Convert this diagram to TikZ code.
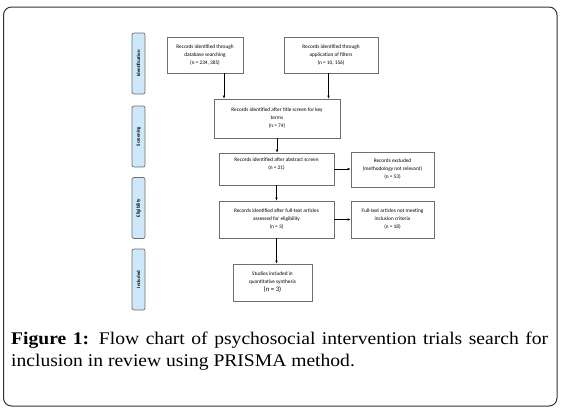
\documentclass[tikz,border=0pt]{standalone}
\usepackage{fontspec}
\setmainfont[FakeStretch=1.1]{Liberation Serif}
\newfontfamily\boxfont{Carlito}
\usetikzlibrary{arrows.meta}
\definecolor{lblfill}{HTML}{CDE8FA}
\definecolor{boxline}{HTML}{6E6E6E}
\tikzset{
  box/.style={draw=boxline, line width=0.7pt, fill=white, inner sep=0pt, align=center,
    font=\boxfont\fontsize{5.3}{8}\selectfont},
  stage/.style={draw=boxline, line width=0.7pt, fill=lblfill, rounded corners=2pt, rotate=90,
    minimum width=61pt, minimum height=13pt, inner sep=0pt,
    font=\boxfont\bfseries\fontsize{4.8}{5}\selectfont},
  arr/.style={-{Latex[length=3pt,width=2.6pt]}, line width=0.7pt, black},
  frame/.style={draw=black!80, line width=1pt, rounded corners=8pt}
}
\begin{document}
\begin{tikzpicture}[x=1pt,y=-1pt]
\useasboundingbox (0,0) rectangle (563,410);
\draw[frame] (3.5,7) rectangle (557,406);

% stage labels
\node[stage] (sid) at (138.5,63.5) {Identification};
\node[stage] (ssc) at (138.5,136.5) {Screening};
\node[stage] (sel) at (138.5,208) {Eligibility};
\node[stage] (sin) at (138.5,279.5) {Included};

% boxes
\node[box, minimum width=76, minimum height=36] (b1) at (205,55)
  {Records identified through\\database searching\\(n = 234, 385)};
\node[box, minimum width=94, minimum height=36] (b2) at (331,55)
  {Records identified through\\application of filters\\(n = 10, 156)};
\node[box, minimum width=126, minimum height=39] (b3) at (277,118.5)
  {Records identified after title screen for key\\terms\\(n = 74)};
\node[box, minimum width=115, minimum height=32] (b4) at (276.5,169)
  {Records identified after abstract screen\\(n = 21)\\[2pt]};
\node[box, minimum width=83, minimum height=35] (b5) at (392.5,169.5)
  {Records excluded\\(methodology not relevant)\\(n = 53)};
\node[box, minimum width=115, minimum height=37] (b6) at (276.5,219.5)
  {Records identified after full-text articles\\assessed for eligibility\\(n = 3)};
\node[box, minimum width=83, minimum height=37] (b7) at (392.5,219.5)
  {Full-text articles not meeting\\inclusion criteria\\(n = 18)};
\node[box, minimum width=79, minimum height=37] (b8) at (272.5,282.5)
  {Studies included in\\quantitative synthesis\\{\fontsize{6.8}{8}\selectfont(n = 3)}};

% connectors
\draw[arr] ([xshift=19pt]b1.south) -- ([xshift=19pt]b1.south |- b3.north);
\draw[arr] ([xshift=-2.5pt]b2.south) -- ([xshift=-2.5pt]b2.south |- b3.north);
\draw[arr] (b3.south) -- (b3.south |- b4.north);
\draw[arr] (b4.east) -- (b4.east -| b5.west);
\draw[arr] (b4.south) -- (b4.south |- b6.north);
\draw[arr] (b6.east) -- (b6.east -| b7.west);
\draw[arr] (b6.south) -- (b6.south |- b8.north);

% caption
\node[anchor=north west, inner sep=0pt, align=left, font=\fontsize{17.8}{22}\selectfont] (cap) at (11,332)
  {\makebox[537pt][s]{\textbf{Figure 1:} Flow chart of psychosocial intervention trials search for}\\
   inclusion in review using PRISMA method.};
\end{tikzpicture}
\end{document}
